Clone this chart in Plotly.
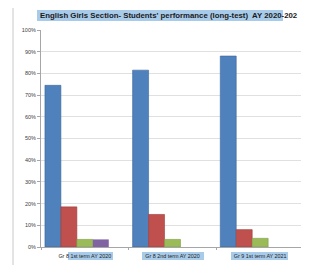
import plotly.graph_objects as go

categories = ["Gr 8 1st term AY 2020", "Gr 8 2nd term AY 2020", "Gr 9 1st term AY 2021"]
series_names = ["Band 1", "Band 2", "Band 3", "Band 4"]
series_values = [
    [74.5, 81.5, 88.0],
    [18.5, 15.0, 8.0],
    [3.5, 3.5, 4.0],
    [3.5, 0.0, 0.0],
]
y_tick_vals = [0, 10, 20, 30, 40, 50, 60, 70, 80, 90, 100]
y_tick_text = ["0%", "10%", "20%", "30%", "40%", "50%", "60%", "70%", "80%", "90%", "100%"]
title_text = "English Girls Section- Students' performance (long-test)  AY 2020-202"

colors = ["#4f81bd", "#c0504d", "#9bbb59", "#8064a2"]
edges = ["#3d6699", "#9c3d3a", "#7d9a45", "#66508a"]

# the page body has an 8px margin, so the figure sits at (8, 8) in the window
OFF = 8
W, H = 309 - OFF, 265 - OFF
# plot area in window pixels: x 41..304, y 30..247
L = 41 - OFF
T = 30 - OFF
R = W - (304 - OFF)
B = H - (247 - OFF)
pw, ph = W - L - R, H - T - B

def px(x):
    return (x - OFF - L) / pw

def py(y):
    return (H - B - (y - OFF)) / ph

fig = go.Figure()
bw = 0.182
offsets = [-0.455, -0.273, -0.091, 0.091]
for i, (name, vals) in enumerate(zip(series_names, series_values)):
    fig.add_trace(go.Bar(
        x=categories, y=vals, name=name,
        marker=dict(color=colors[i], line=dict(color=edges[i], width=0.6 if i < 3 else 0)),
        width=bw, offset=offsets[i],
    ))

shapes = []
# outer chart frame
shapes.append(dict(type="rect", xref="paper", yref="paper",
                   x0=px(13), x1=px(330), y0=py(290), y1=py(7),
                   line=dict(color="#c8c8c8", width=1), layer="below"))
# title highlight
shapes.append(dict(type="rect", xref="paper", yref="paper",
                   x0=px(37), x1=px(283), y0=py(21), y1=py(10),
                   fillcolor="#a9cbea", line=dict(width=0), layer="below"))
# category label highlights
for x0, x1 in [(68, 113), (142, 204), (231, 288)]:
    shapes.append(dict(type="rect", xref="paper", yref="paper",
                       x0=px(x0), x1=px(x1), y0=py(260), y1=py(252),
                       fillcolor="#a9cbea", line=dict(width=0), layer="below"))

fig.update_layout(
    width=W, height=H,
    margin=dict(l=L, r=R, t=T, b=B, pad=0, autoexpand=False),
    paper_bgcolor="white", plot_bgcolor="white",
    barmode="overlay",
    showlegend=False,
    shapes=shapes,
    annotations=[dict(text="<b>" + title_text + "</b>", xref="paper", yref="paper",
                      x=px(38), y=py(15.5), xanchor="left", yanchor="middle",
                      showarrow=False,
                      font=dict(family="Liberation Sans", size=7.8, color="#1a1a1a"))],
    font=dict(family="Liberation Sans", color="#333333"),
)
fig.update_yaxes(range=[0, 100], tickvals=y_tick_vals, ticktext=y_tick_text,
                 automargin=False,
                 showgrid=True, gridcolor="#e0e0e0", gridwidth=1,
                 showline=True, linecolor="#a6a6a6", linewidth=1,
                 ticks="outside", ticklen=3, tickcolor="#a6a6a6",
                 tickfont=dict(size=5.5, color="#404040"), zeroline=False)
fig.update_xaxes(type="category", range=[-0.5, 2.5], automargin=False,
                 showline=True, linecolor="#a6a6a6", linewidth=1,
                 ticks="outside", ticklen=2, tickcolor="#a6a6a6", tickson="boundaries",
                 ticklabelstandoff=4,
                 tickfont=dict(size=5.4, color="#222222", family="Liberation Sans"),
                 showgrid=False)

fig.write_html("out.html")
